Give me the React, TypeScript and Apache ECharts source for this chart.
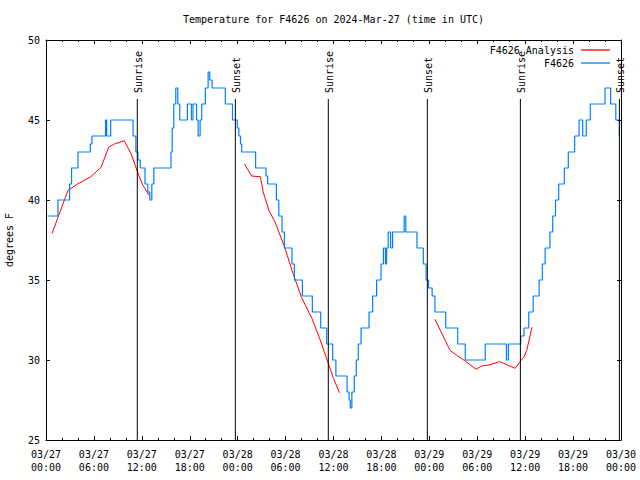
import React, { useEffect, useRef } from 'react';
import * as echarts from 'echarts';

const TITLE = 'Temperature for F4626 on 2024-Mar-27 (time in UTC)';
const Y_LABEL = 'degrees F';
const OBS_NAME = 'F4626';
const ANA_NAME = 'F4626 Analysis';
const START_MONTH = '03';
const START_DAY = 27;
const X_MIN = 0;
const X_MAX = 72;
const X_STEP = 6;
const Y_MIN = 25;
const Y_MAX = 50;
const Y_STEP = 5;

// Observations: [hours since 03/27 00:00 UTC, temperature F] at each change
const obsPoints: [number, number][] = [
  [0.2, 39], [1.5, 40], [2.95, 41], [3.2, 42], [4.0, 43], [5.55, 43.5], [5.75, 44],
  [7.45, 45], [7.6, 44], [8.1, 45], [10.9, 44], [11.25, 43], [11.5, 42.5], [11.8, 42],
  [12.4, 41], [12.75, 40.5], [13.0, 40], [13.25, 41], [13.5, 42], [15.65, 43],
  [15.8, 44.5], [16.0, 46], [16.25, 47], [16.5, 46], [16.75, 45], [17.7, 46],
  [18.2, 45], [18.4, 46], [18.85, 45], [19.05, 44], [19.3, 45], [19.5, 46],
  [19.95, 47], [20.3, 48], [20.5, 47.5], [20.8, 47], [22.45, 46], [23.35, 45],
  [23.95, 44.5], [24.15, 44], [24.35, 43.5], [24.5, 43], [26.25, 42], [27.55, 41.5],
  [27.75, 41], [28.85, 40], [29.15, 39], [29.55, 38], [29.85, 37], [30.8, 36],
  [31.1, 35], [32.1, 34], [33.35, 33], [34.4, 32], [35.15, 31], [35.9, 30],
  [36.3, 29], [37.7, 28], [37.95, 27.5], [38.1, 27], [38.3, 28], [38.6, 29],
  [38.85, 30], [39.1, 31], [39.45, 32], [40.45, 33], [40.9, 34], [41.4, 35],
  [41.95, 36], [42.25, 37], [42.5, 36], [42.65, 37], [42.85, 38], [43.15, 37],
  [43.4, 38], [44.85, 39], [45.05, 38], [46.45, 37], [47.25, 36], [47.6, 35],
  [47.9, 34.5], [48.35, 34], [48.7, 33], [50.05, 32], [51.55, 31], [52.5, 30],
  [55.0, 31], [57.65, 30], [57.9, 31], [59.45, 31.5], [59.85, 32], [60.45, 33],
  [61.0, 34], [61.75, 35], [62.15, 36], [62.5, 37], [63.1, 38], [63.45, 39],
  [63.8, 40], [64.2, 41], [64.9, 42], [65.4, 43], [66.2, 44], [66.75, 45],
  [67.2, 44], [67.65, 45], [68.15, 46], [70.0, 47], [70.25, 47], [70.7, 46],
  [71.35, 45], [71.6, 45], [71.8, 44],
];

// Analysis (model) segments
const anaSeg1: [number, number][] = [
  [0.75, 37.9], [2.75, 40.6], [3.95, 41.0], [5.6, 41.45], [6.9, 42.05], [7.85, 43.3],
  [8.55, 43.5], [9.8, 43.7], [10.65, 42.9], [11.5, 41.7], [12.1, 40.95], [12.9, 40.3],
];
const anaSeg2: [number, number][] = [
  [24.85, 42.25], [25.75, 41.5], [26.85, 41.45], [27.2, 40.5], [27.95, 39.3],
  [28.7, 38.6], [29.85, 37.1], [30.8, 35.6], [32.0, 33.9], [33.3, 32.6],
  [34.3, 31.3], [35.2, 30.0], [36.0, 28.85], [36.75, 27.95],
];
const anaSeg3: [number, number][] = [
  [48.7, 32.55], [50.6, 30.6], [51.4, 30.3], [52.45, 29.95], [53.85, 29.42],
  [54.55, 29.63], [55.6, 29.7], [56.8, 29.9], [58.75, 29.48], [59.3, 29.85],
  [59.85, 30.2], [60.2, 30.6], [60.85, 32.05],
];

// Sun events
const sunHours = [11.43, 23.71, 35.35, 47.75, 59.4, 71.8];
const sunNames = ['Sunrise', 'Sunset', 'Sunrise', 'Sunset', 'Sunrise', 'Sunset'];

const FONT = '"DejaVu Sans Mono", monospace';
const BLUE = '#0080ff';
const RED = '#ff0000';

function fmtHour(v: number): string {
  const day = START_DAY + Math.floor(v / 24 + 1e-9);
  const hh = Math.round(v - (day - START_DAY) * 24);
  const pad = (n: number) => (n < 10 ? '0' + n : '' + n);
  return START_MONTH + '/' + pad(day) + '\n' + pad(hh) + ':00';
}

export default function App() {
  const ref = useRef<HTMLDivElement>(null);
  useEffect(() => {
    if (!ref.current) return;
    const chart = echarts.init(ref.current, null, { renderer: 'svg' });
    const axisCommon = {
      axisLine: { show: true, onZero: false, lineStyle: { color: '#000', width: 1 } },
      splitLine: { show: false },
    };
    const anaSeries = [anaSeg1, anaSeg2, anaSeg3].map((seg) => ({
      name: ANA_NAME,
      type: 'line',
      data: seg,
      symbol: 'none',
      lineStyle: { color: RED, width: 1 },
      itemStyle: { color: RED },
      z: 2,
    }));
    chart.setOption({
      animation: false,
      backgroundColor: '#fff',
      grid: { left: 46, right: 19, top: 40, bottom: 40, containLabel: false },
      legend: {
        data: [
          { name: ANA_NAME, icon: 'rect', itemStyle: { color: RED } },
          { name: OBS_NAME, icon: 'rect', itemStyle: { color: BLUE } },
        ],
        orient: 'vertical',
        right: 30,
        top: 44,
        align: 'right',
        padding: 0,
        itemWidth: 29,
        itemHeight: 1.3,
        itemGap: 1,
        textStyle: { fontFamily: FONT, fontSize: 10, color: '#000', lineHeight: 12, padding: [0, 2, 0, 0] },
      },
      graphic: [
        {
          type: 'text',
          x: 333.5,
          y: 19,
          style: { text: TITLE, font: '10px ' + FONT, fill: '#000', align: 'center', verticalAlign: 'middle' },
        },
        {
          type: 'text',
          x: 9.5,
          y: 240,
          rotation: Math.PI / 2,
          style: { text: Y_LABEL, font: '10px ' + FONT, fill: '#000', align: 'center', verticalAlign: 'middle' },
        },
      ],
      xAxis: [
        {
          type: 'value',
          position: 'bottom',
          min: X_MIN,
          max: X_MAX,
          interval: X_STEP,
          ...axisCommon,
          axisTick: { show: true, inside: true, length: 4, lineStyle: { color: '#000' } },
          minorTick: { show: true, splitNumber: 3, length: 2, lineStyle: { color: '#000' } },
          axisLabel: {
            formatter: (v: number) => fmtHour(v),
            fontFamily: FONT,
            fontSize: 10,
            color: '#000',
            lineHeight: 13,
            margin: 8,
          },
        },
        {
          type: 'value',
          position: 'top',
          min: X_MIN,
          max: X_MAX,
          interval: X_STEP,
          ...axisCommon,
          axisTick: { show: true, inside: true, length: 4, lineStyle: { color: '#000' } },
          minorTick: { show: true, splitNumber: 3, length: 2, lineStyle: { color: '#000' } },
          axisLabel: { show: false },
        },
      ],
      yAxis: [
        {
          type: 'value',
          position: 'left',
          min: Y_MIN,
          max: Y_MAX,
          interval: Y_STEP,
          ...axisCommon,
          axisTick: { show: true, inside: true, length: 4, lineStyle: { color: '#000' } },
          axisLabel: { fontFamily: FONT, fontSize: 10, color: '#000', margin: 6 },
        },
        {
          type: 'value',
          position: 'right',
          min: Y_MIN,
          max: Y_MAX,
          interval: Y_STEP,
          ...axisCommon,
          axisTick: { show: true, inside: true, length: 4, lineStyle: { color: '#000' } },
          axisLabel: { show: false },
        },
      ],
      series: [
        ...anaSeries,
        {
          name: OBS_NAME,
          type: 'line',
          data: obsPoints,
          step: 'end',
          symbol: 'none',
          lineStyle: { color: BLUE, width: 1.2 },
          itemStyle: { color: BLUE },
          z: 3,
        },
        {
          name: 'sun',
          type: 'custom',
          data: sunHours.map((h) => [h]),
          encode: { x: 0 },
          z: 4,
          silent: true,
          renderItem: (params: any, api: any) => {
            const idx = params.dataIndex;
            const x = api.coord([api.value(0), Y_MIN])[0];
            const cs = params.coordSys;
            const bottom = cs.y + cs.height;
            const lineTop = cs.y + 59;
            return {
              type: 'group',
              children: [
                {
                  type: 'line',
                  shape: { x1: x, y1: bottom, x2: x, y2: lineTop },
                  style: { stroke: '#000', lineWidth: 1 },
                },
                {
                  type: 'text',
                  x: x + 1,
                  y: lineTop - 6,
                  rotation: Math.PI / 2,
                  style: {
                    text: sunNames[idx],
                    font: '10px ' + FONT,
                    fill: '#000',
                    align: 'left',
                    verticalAlign: 'middle',
                  },
                },
              ],
            };
          },
        },
      ],
    });
    return () => chart.dispose();
  }, []);
  return (
    <div
      ref={ref}
      style={{ position: 'fixed', left: 0, top: 0, width: 640, height: 480, background: '#fff' }}
    />
  );
}
